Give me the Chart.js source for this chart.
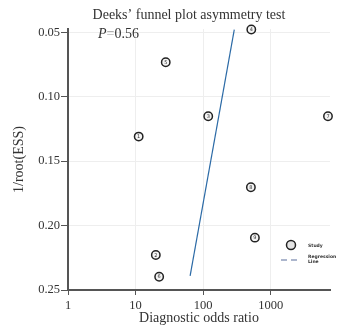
<!DOCTYPE html>
<html>
<head>
<meta charset="utf-8">
<script src="https://cdn.jsdelivr.net/npm/chart.js@4"></script>
<style>
  html, body { margin: 0; padding: 0; background: #fff; }
  #wrap { width: 350px; height: 330px; }
</style>
</head>
<body>
<div id="wrap"><canvas id="deeks" width="350" height="330"></canvas></div>
<script>
// study data
const studyIds = [1, 2, 3, 4, 5, 6, 7, 8, 9];
const oddsRatio = [11.1, 19.9, 118.6, 514, 27.9, 22.3, 7000, 507, 581];
const invRootEss = [0.131, 0.2228, 0.1152, 0.0479, 0.0733, 0.2397, 0.1152, 0.1703, 0.2094];

// regression line end points
const regX = [64, 288];
const regY = [0.239, 0.048];

const xTicks = [1, 10, 100, 1000];
const yTicks = [0.05, 0.10, 0.15, 0.20, 0.25];

const serif = '"Liberation Serif", "Times New Roman", serif';
const lineBlue = '#2b6aa6';

const studyPoints = oddsRatio.map((v, i) => ({ x: v, y: invRootEss[i], id: studyIds[i] }));
const regPoints = regX.map((v, i) => ({ x: v, y: regY[i] }));

// numbers inside the circles + title + legend
const extras = {
    id: 'extras',
    afterDatasetsDraw(chart) {
        const c = chart.ctx;
        const meta = chart.getDatasetMeta(1);
        c.save();
        c.fillStyle = '#333';
        c.font = '5px "DejaVu Sans", sans-serif';
        c.textAlign = 'center';
        c.textBaseline = 'middle';
        meta.data.forEach((pt, i) => {
            c.fillText(String(studyIds[i]), pt.x, pt.y + 0.3);
        });
        c.restore();
    },
    afterDraw(chart) {
        const c = chart.ctx;
        c.save();
        c.fillStyle = '#333';
        c.textBaseline = 'alphabetic';
        c.textAlign = 'center';
        c.font = '14px ' + serif;
        c.fillText('Deeks\u2019 funnel plot asymmetry test', 189, 19);

        c.textAlign = 'left';
        c.font = 'italic 14px ' + serif;
        c.fillText('P', 98, 38);
        let w = c.measureText('P').width;
        c.font = '14px ' + serif;
        c.fillStyle = '#999';
        c.fillText('=', 98 + w, 38);
        let w2 = c.measureText('=').width;
        c.fillStyle = '#333';
        c.fillText('0.56', 98 + w + w2, 38);

        // legend
        c.beginPath();
        c.arc(291, 245, 4.5, 0, Math.PI * 2);
        c.fillStyle = '#e4e4e4';
        c.fill();
        c.lineWidth = 1.5;
        c.strokeStyle = '#222';
        c.stroke();

        c.beginPath();
        c.setLineDash([6, 4]);
        c.moveTo(281, 260);
        c.lineTo(300, 260);
        c.lineWidth = 1.2;
        c.strokeStyle = '#5b6f9c';
        c.stroke();
        c.setLineDash([]);

        c.fillStyle = '#333';
        c.font = 'bold 4.5px "DejaVu Sans", sans-serif';
        c.textBaseline = 'middle';
        c.fillText('Study', 308, 245.5);
        c.fillText('Regression', 308, 256.5);
        c.fillText('Line', 308, 262);
        c.restore();
    }
};

new Chart(document.getElementById('deeks').getContext('2d'), {
    type: 'scatter',
    data: {
        datasets: [
            {
                type: 'line',
                label: 'Regression Line',
                data: regPoints,
                borderColor: lineBlue,
                borderWidth: 1.2,
                pointRadius: 0,
                fill: false
            },
            {
                label: 'Study',
                data: studyPoints,
                pointRadius: 4.2,
                pointBackgroundColor: '#f4f4f4',
                pointBorderColor: '#222',
                pointBorderWidth: 1.5
            }
        ]
    },
    options: {
        responsive: false,
        animation: false,
        clip: false,
        layout: { padding: { top: 29, right: 20, left: 0, bottom: 0 } },
        plugins: {
            legend: { display: false },
            tooltip: { enabled: false }
        },
        scales: {
            x: {
                type: 'logarithmic',
                min: 1,
                max: 7500,
                afterBuildTicks: (s) => { s.ticks = xTicks.map(v => ({ value: v })); },
                afterFit: (s) => { s.height = 40; },
                ticks: {
                    color: '#333',
                    font: { family: serif, size: 12.5 },
                    padding: 3,
                    maxRotation: 0,
                    callback: (v) => String(v)
                },
                grid: { color: '#eeeeee', tickColor: '#555', tickLength: 5 },
                border: { color: '#555', width: 2 },
                title: {
                    display: true,
                    text: 'Diagnostic odds ratio',
                    color: '#333',
                    font: { family: serif, size: 14 },
                    padding: { top: 0, bottom: 3 }
                }
            },
            y: {
                reverse: true,
                min: 0.0475,
                max: 0.25,
                afterBuildTicks: (s) => { s.ticks = yTicks.map(v => ({ value: v })); },
                afterFit: (s) => { s.width = 68; },
                ticks: {
                    color: '#333',
                    font: { family: serif, size: 12.5 },
                    padding: 1,
                    callback: (v) => v.toFixed(2)
                },
                grid: { color: '#eeeeee', tickColor: '#555', tickLength: 7 },
                border: { color: '#555', width: 2 },
                title: {
                    display: true,
                    text: '1/root(ESS)',
                    color: '#333',
                    font: { family: serif, size: 14 },
                    padding: { top: 11, bottom: 0 }
                }
            }
        }
    },
    plugins: [extras]
});
</script>
</body>
</html>
